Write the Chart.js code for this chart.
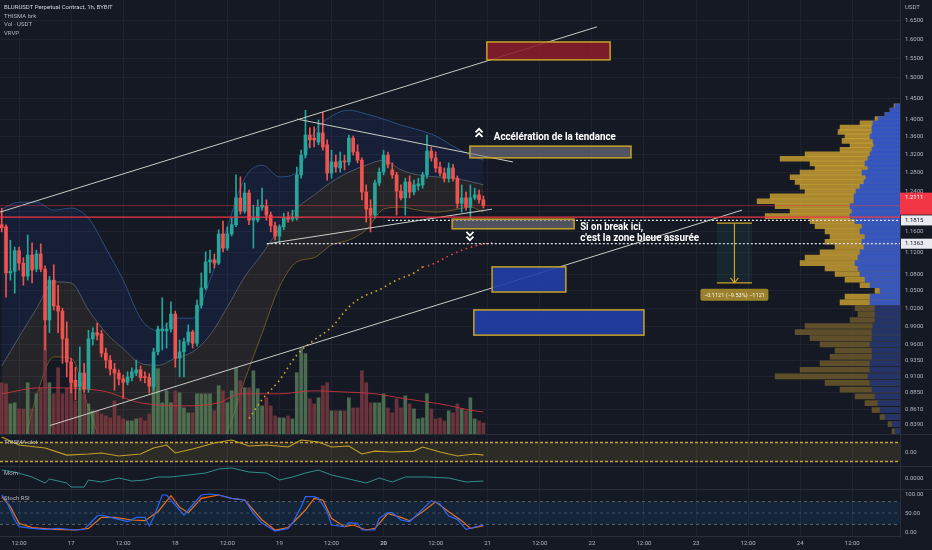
<!DOCTYPE html>
<html>
<head>
<meta charset="utf-8">
<title>BLURUSDT 1h</title>
<script src="https://cdn.jsdelivr.net/npm/chart.js@4.4.1/dist/chart.umd.min.js"></script>
<style>
  html, body { margin: 0; padding: 0; background: #151924; }
  #wrap { position: relative; width: 932px; height: 550px; overflow: hidden; background: #151924; font-family: Roboto, "Noto Sans", sans-serif; }
  #wrap canvas { position: absolute; left: 0; }
  .sep { position: absolute; left: 0; width: 932px; height: 1px; background: #2a2e39; z-index: 2; }
  .txt { position: absolute; left: 4px; font-size: 6px; line-height: 8.7px; color: #b2b5be; z-index: 3; white-space: nowrap; }
</style>
</head>
<body>
<div id="wrap">
  <canvas id="main" width="932" height="434" style="top:0"></canvas>
  <canvas id="thisma" width="932" height="32" style="top:434px"></canvas>
  <canvas id="mom" width="932" height="23" style="top:466px"></canvas>
  <canvas id="stoch" width="932" height="61" style="top:489px"></canvas>
  <div class="sep" style="top:434px"></div>
  <div class="sep" style="top:466px"></div>
  <div class="sep" style="top:489px"></div>
  <div class="txt" style="top:3px"><span style="color:#d1d4dc">BLURUSDT Perpetual Contract, 1h, BYBIT</span><br>THISMA brk<br>Vol · USDT<br>VRVP</div>
  <div class="txt" style="top:438px">THISMA clst</div>
  <div class="txt" style="top:469px">Mom</div>
  <div class="txt" style="top:494px">Stoch RSI</div>
</div>
<script>
// hours counted from 16 Jan 00:00, first candle at 08:00
const xMin = 7.61, xMax = 215.0;
const startHour = 8;

const opens = [
  1.173,1.169,1.082,1.085,1.123,1.100,1.076,1.115,1.089,1.117,
  1.089,1.000,1.069,1.024,1.015,0.969,0.932,0.904,0.894,0.915,
  0.891,0.969,0.979,0.977,0.946,0.935,0.921,0.915,0.906,0.901,
  0.908,0.915,0.920,0.909,0.908,0.895,0.948,0.982,0.982,0.985,
  1.010,0.938,0.948,0.964,0.980,0.962,1.025,1.055,1.102,1.106,
  1.100,1.155,1.128,1.155,1.173,1.227,1.200,1.237,1.182,1.182,
  1.208,1.210,1.192,1.171,1.151,1.169,1.188,1.184,1.186,1.275,
  1.318,1.363,1.356,1.347,1.368,1.341,1.279,1.303,1.290,1.305,
  1.303,1.356,1.325,1.307,1.239,1.206,1.192,1.258,1.281,1.318,
  1.286,1.275,1.241,1.227,1.260,1.239,1.252,1.254,1.275,1.327,
  1.312,1.292,1.279,1.268,1.290,1.268,1.216,1.227,1.208,1.227,
  1.233,1.223
];
const highs = [
  1.206,1.173,1.143,1.130,1.130,1.110,1.153,1.138,1.124,1.136,
  1.095,1.076,1.097,1.060,1.020,0.997,0.938,0.924,0.956,0.930,
  0.983,0.987,0.995,0.983,0.954,0.942,0.930,0.920,0.912,0.917,
  0.923,0.935,0.926,0.917,0.914,0.954,0.990,1.038,0.995,1.031,
  1.015,0.967,0.970,0.992,0.983,1.034,1.082,1.121,1.124,1.117,
  1.163,1.180,1.169,1.186,1.275,1.271,1.258,1.243,1.212,1.223,
  1.247,1.223,1.198,1.178,1.173,1.196,1.198,1.202,1.292,1.329,
  1.421,1.380,1.382,1.398,1.416,1.352,1.329,1.318,1.325,1.318,
  1.363,1.361,1.341,1.312,1.254,1.223,1.264,1.290,1.329,1.325,
  1.301,1.281,1.254,1.268,1.273,1.264,1.268,1.281,1.363,1.336,
  1.325,1.303,1.290,1.301,1.298,1.273,1.254,1.239,1.254,1.247,
  1.243,1.231
];
const lows = [
  1.159,1.039,1.069,1.046,1.087,1.060,1.069,1.064,1.084,1.084,
  0.951,0.979,1.017,0.979,0.930,0.909,0.885,0.875,0.889,0.886,
  0.886,0.959,0.967,0.940,0.923,0.912,0.889,0.897,0.877,0.897,
  0.903,0.911,0.903,0.900,0.885,0.889,0.943,0.951,0.954,0.980,
  0.924,0.909,0.909,0.959,0.954,0.957,1.020,1.052,1.082,1.091,
  1.097,1.121,1.124,1.151,1.169,1.194,1.196,1.173,1.128,1.178,
  1.202,1.182,1.159,1.143,1.138,1.163,1.178,1.180,1.182,1.268,
  1.312,1.334,1.336,1.341,1.329,1.264,1.268,1.281,1.281,1.286,
  1.296,1.318,1.301,1.223,1.178,1.159,1.186,1.252,1.275,1.290,
  1.268,1.192,1.223,1.192,1.227,1.233,1.243,1.247,1.268,1.305,
  1.281,1.273,1.260,1.260,1.262,1.206,1.198,1.202,1.182,1.223,
  1.216,1.206
];
const closes = [
  1.167,1.082,1.085,1.123,1.100,1.076,1.115,1.087,1.117,1.089,
  1.000,1.069,1.024,1.015,0.969,0.932,0.901,0.894,0.915,0.891,
  0.969,0.979,0.975,0.946,0.935,0.921,0.915,0.906,0.901,0.909,
  0.917,0.920,0.908,0.908,0.895,0.948,0.985,0.985,0.985,1.010,
  0.938,0.948,0.964,0.980,0.962,1.025,1.055,1.102,1.106,1.100,
  1.155,1.128,1.155,1.173,1.227,1.200,1.237,1.182,1.186,1.208,
  1.212,1.192,1.171,1.151,1.169,1.186,1.184,1.188,1.275,1.318,
  1.363,1.352,1.352,1.368,1.336,1.279,1.303,1.292,1.305,1.303,
  1.356,1.325,1.307,1.239,1.204,1.192,1.258,1.281,1.318,1.298,
  1.275,1.241,1.227,1.260,1.239,1.254,1.256,1.275,1.327,1.312,
  1.290,1.279,1.268,1.290,1.268,1.216,1.227,1.208,1.227,1.233,
  1.223,1.211
];
// volume, thousands USDT
const volumes = [
  510,500,300,310,250,250,510,250,400,460,
  1080,510,400,660,400,460,600,330,460,400,
  300,230,230,200,180,160,330,180,150,130,
  130,150,160,130,200,660,650,310,430,310,
  430,410,260,210,210,400,400,400,400,230,
  480,430,310,430,660,530,460,460,630,450,
  280,360,280,180,160,160,180,150,610,850,
  800,350,300,360,480,510,230,230,230,230,
  360,260,260,630,510,310,310,310,400,260,
  210,350,260,380,300,250,150,160,400,250,
  150,160,130,230,210,300,250,230,360,150,
  130,110
];
const hours = opens.map((_, i) => startHour + i);

const volMaHours = [8,17,31,40,50,58,63,72,80,86,94,101,109,117,119];
const volMa = [400,460,430,310,280,310,400,400,430,420,400,350,300,230,220];

// band around price (upper / basis / lower)
const bandHours = [8,12,16,20,24,28,32,36,40,44,48,52,56,60,64,68,72,76,80,84,88,92,96,100,104,108,112,116,119];
const bandUpper = [1.204,1.218,1.218,1.202,1.206,1.186,1.128,1.069,1.003,0.982,1.003,1.003,1.069,1.169,1.268,1.296,1.271,1.280,1.370,1.407,1.421,1.412,1.400,1.386,1.375,1.361,1.338,1.318,1.307];
const bandMiddle = [0.926,0.972,1.019,1.066,1.064,1.017,0.979,0.953,0.930,0.927,0.938,0.948,0.975,1.022,1.075,1.117,1.165,1.206,1.233,1.260,1.281,1.296,1.307,1.286,1.275,1.271,1.268,1.261,1.254];
const bandLower = [0.76,0.79,0.880,0.940,0.938,0.863,0.80,0.76,0.75,0.76,0.77,0.79,0.81,0.83,0.904,0.978,1.057,1.102,1.110,1.134,1.143,1.163,1.204,1.208,1.202,1.198,1.202,1.208,1.198];

// dotted curve
const curveHours = [65,68,72,76,80,84,88,91,95,99,103,105];
const curvePrices = [0.848,0.875,0.904,0.943,0.967,0.988,1.022,1.039,1.052,1.069,1.082,1.093];
const curveTailHours = [105,107,111,114,118,121];
const curveTailPrices = [1.093,1.097,1.113,1.124,1.134,1.138];

// trend lines: start hour, start price, end hour, end price
const trendStartH = [7.62, 19.1, 76.05, 69.1];
const trendStartP = [1.198, 0.838, 1.400, 1.136];
const trendEndH = [145.2, 178.6, 125.8, 121.0];
const trendEndP = [1.634, 1.202, 1.303, 1.204];

const redLevel = 1.188;
const lastPrice = 1.2111;
const levelPrices = [1.1815, 1.1363];
const levelStart = [97, 69.1];

// zones: start hour, end hour, top price, bottom price
const zones = [
  [119.8, 148.2, 1.593, 1.546],
  [115.9, 153.0, 1.338, 1.312],
  [111.8, 139.9, 1.184, 1.165],
  [121.0, 138.0, 1.093, 1.048],
  [116.8, 156.0, 1.017, 0.975]
];
const zoneKinds = ['red', 'gray', 'gray', 'blue', 'blue'];
const measureTime = [172.8, 180.9];
const measurePrice = [1.1763, 1.0642];
const measureText = '\u22120.1121 (\u22129.53%) \u22121121';

// visible range volume profile
const vpPrice = [1.43,1.42,1.41,1.40,1.39,1.38,1.37,1.36,1.35,1.34,1.33,1.32,1.31,1.30,1.29,1.28,1.27,1.26,1.25,1.24,1.23,1.22,1.21,1.20,1.19,1.18,1.17,1.16,1.15,1.14,1.13,1.12,1.11,1.10,1.09,1.08,1.07,1.06,1.05,1.04,1.03,1.02,1.01,1.00,0.99,0.98,0.97,0.96,0.95,0.94,0.93,0.92,0.91,0.90,0.89,0.88,0.87,0.86,0.85,0.84,0.83];
const vpTotal = [6,10,15,25,40,60,62,55,58,50,60,95,120,90,85,100,110,105,100,95,130,143,125,110,135,90,85,75,70,75,65,80,95,100,75,65,55,40,25,55,60,45,42,50,95,105,90,80,65,70,80,100,125,75,60,45,35,28,20,12,8];
const vpUp = [5,10,15,22,27,28,28,30,27,26,28,30,32,35,32,38,34,36,40,44,46,46,50,48,50,45,38,40,35,38,36,40,42,45,42,40,35,30,20,30,30,25,25,25,27,28,28,30,28,28,30,30,32,30,28,25,22,20,15,8,5];
const valueAreaLow = 1.03;

const priceTicks = [1.65,1.6,1.55,1.5,1.45,1.4,1.36,1.32,1.28,1.24,1.2,1.16,1.12,1.08,1.05,1.02,0.99,0.96,0.935,0.91,0.885,0.861,0.839];
const hiddenPriceTicks = [1.2];
const timeTicks = [12,24,36,48,60,72,84,96,108,120,132,144,156,168,180,192,204];
const timeLabels = ['12:00','17','12:00','18','12:00','19','12:00','20','12:00','21','12:00','22','12:00','23','12:00','24','12:00'];

const thHours = [8,12,18,23,28,31,35,40,43,46,48,52,57,61,65,69,74,77,81,84,88,91,94,98,103,105,109,113,117,119];
const thVals = [1.58,0.74,0.42,-0.32,-0.21,-0.1,-0.42,-0.21,0.42,0.74,-0.1,0.32,0.95,1.26,0.63,0.74,0.53,1.26,1.05,0.53,0.63,-0.21,0.1,0,0.1,0.53,0,-0.42,-0.21,-0.32];

const momHours = [8,11,15,18,19,23,24,27,28,31,35,38,41,44,47,51,55,58,61,65,69,72,75,78,81,84,89,92,95,98,101,106,111,115,119];
const momVals = [0.032,0.024,0.004,-0.02,-0.004,-0.02,-0.036,-0.036,-0.008,-0.016,0,-0.012,-0.008,0.004,0.004,0.012,0.02,0.036,0.04,0.024,0.02,-0.008,0.004,0.02,0.032,0.012,-0.008,-0.02,0,-0.016,0.004,0.004,0,-0.016,-0.012];

const kHours = [8,9,11,12,15,18,21,25,27,28,30,31,34,37,39,41,42,43,45,46,48,50,51,54,56,58,61,64,66,68,71,74,75,77,78,80,81,83,84,87,88,90,91,94,95,97,98,100,102,104,107,109,111,113,115,118,119];
const kVals = [97.4,84.2,31.6,14,9.6,7,9.6,5.3,7,18.4,42.1,44.7,36,27.2,38.6,38.6,15.8,38.6,97.4,97.4,71.1,44.7,57.9,97.4,100,97.4,88.6,84.2,49.1,22.8,2.6,9.6,22.8,66.7,93,93,88.6,53.5,18.4,14,24.6,22.8,5.3,5.3,36,50.9,50.9,31.6,27.2,49.1,82.5,73.7,42.1,33.3,7,15.8,18.4];
const dHours = [8,10,12,15,20,25,28,31,34,38,41,44,47,49,51,54,58,61,64,68,71,74,78,80,82,84,87,89,92,94,97,100,102,105,108,111,114,116,118,119];
const dVals = [93,66.7,22.8,11.4,7,5.3,9.6,38.6,38.6,31.6,29.8,53.5,95.6,64.9,50.9,88.6,97.4,88.6,84.2,31.6,5.3,11.4,57.9,88.6,84.2,36,14,18.4,5.3,9.6,49.1,38.6,29.8,53.5,79.8,53.5,29.8,9.6,14,16.7];

const upColor = '#26a69a';
const downColor = '#ef5350';
const gold = '#c9a227';
const gridColor = '#1f2330';
const axisText = '#b2b5be';

Chart.defaults.font.family = 'Roboto, "Noto Sans", sans-serif';

const pts = (xs, ys) => xs.map((h, i) => ({ x: h, y: ys[i] }));
const flat = (v, from, to) => [{ x: from, y: v }, { x: to, y: v }];
const isUp = i => closes[i] >= opens[i];

function timeAxis(showLabels) {
  return {
    type: 'linear', min: xMin, max: xMax, bounds: 'data', offset: false,
    afterBuildTicks: s => { s.ticks = timeTicks.map(v => ({ value: v })); },
    grid: { color: gridColor, drawTicks: false, offset: false },
    border: { display: showLabels, color: '#2a2e39' },
    ticks: {
      display: showLabels, autoSkip: false, maxRotation: 0, padding: 4, color: axisText,
      font: c => ({ size: 6, weight: c.tick && c.tick.value === 96 ? 'bold' : 'normal' }),
      callback: (v, i) => timeLabels[i]
    },
    afterFit: s => { s.height = showLabels ? 14 : 0; s.paddingLeft = 0; s.paddingRight = 0; }
  };
}

function valueAxis(min, max, list, fmt, showGrid) {
  return {
    type: 'linear', position: 'right', min, max, bounds: 'data', offset: false,
    afterBuildTicks: s => { s.ticks = list.map(v => ({ value: v })); },
    grid: { display: showGrid, color: gridColor, drawTicks: false, offset: false },
    border: { color: '#2a2e39' },
    ticks: { padding: 5, color: axisText, font: { size: 6 }, callback: fmt },
    afterFit: s => { s.width = 32; s.paddingTop = 0; s.paddingBottom = 0; }
  };
}

const baseOptions = () => ({
  responsive: false, animation: false, events: [],
  layout: { padding: 0, autoPadding: false },
  plugins: { legend: { display: false }, tooltip: { enabled: false } },
  elements: { point: { radius: 0 } }
});

function roundBox(ctx, x, y, w, h, r) {
  ctx.beginPath();
  if (ctx.roundRect) ctx.roundRect(x, y, w, h, r); else ctx.rect(x, y, w, h);
}

const drawings = {
  id: 'drawings',
  afterDatasetsDraw(chart) {
    const { ctx, chartArea: area, scales: { x, y } } = chart;
    const X = v => x.getPixelForValue(v);
    const Y = v => y.getPixelForValue(v);
    ctx.save();
    ctx.beginPath();
    ctx.rect(area.left, area.top, area.right - area.left, area.bottom - area.top);
    ctx.clip();

    const fills = { red: 'rgba(139,28,44,0.88)', gray: 'rgba(118,121,133,0.62)', blue: 'rgba(32,62,165,0.9)' };
    zones.forEach(([t1, t2, p1, p2], i) => {
      const l = X(t1), r = X(t2), t = Y(p1), b = Y(p2);
      ctx.fillStyle = fills[zoneKinds[i]];
      ctx.fillRect(l, t, r - l, b - t);
      ctx.strokeStyle = gold;
      ctx.lineWidth = 1.5;
      ctx.strokeRect(l, t, r - l, b - t);
    });

    // price range tool
    const ml = X(measureTime[0]), mr = X(measureTime[1]);
    const mt = Y(measurePrice[0]), mb = Y(measurePrice[1]);
    const mc = (ml + mr) / 2;
    ctx.fillStyle = 'rgba(38,120,110,0.14)';
    ctx.fillRect(ml, mt, mr - ml, mb - mt);
    ctx.strokeStyle = gold;
    ctx.lineWidth = 1.2;
    ctx.beginPath();
    ctx.moveTo(ml, mt); ctx.lineTo(mr, mt);
    ctx.moveTo(ml, mb); ctx.lineTo(mr, mb);
    ctx.moveTo(mc, mt); ctx.lineTo(mc, mb);
    ctx.moveTo(mc - 4, mb - 5); ctx.lineTo(mc, mb); ctx.lineTo(mc + 4, mb - 5);
    ctx.stroke();
    const ly = mb + 12;
    ctx.fillStyle = '#9c812c';
    roundBox(ctx, mc - 34, ly - 6, 68, 12, 2);
    ctx.fill();
    ctx.fillStyle = '#f2f2f2';
    ctx.font = '5.6px Roboto';
    ctx.textAlign = 'center';
    ctx.textBaseline = 'middle';
    ctx.fillText(measureText, mc, ly + 0.5);

    // double chevrons
    const chevron = (cx, cy, dir) => {
      ctx.strokeStyle = '#ffffff';
      ctx.lineWidth = 1.8;
      [-2.3, 2.3].forEach(o => {
        ctx.beginPath();
        ctx.moveTo(cx - 3.5, cy + o + dir * 1.8);
        ctx.lineTo(cx, cy + o - dir * 1.8);
        ctx.lineTo(cx + 3.5, cy + o + dir * 1.8);
        ctx.stroke();
      });
    };
    chevron(X(118), Y(1.368), 1);
    chevron(X(115.9), Y(1.151), -1);

    ctx.fillStyle = '#ffffff';
    ctx.font = 'bold 10.5px Roboto';
    ctx.textAlign = 'left';
    ctx.textBaseline = 'middle';
    ctx.fillText('Accélération de la tendance', X(121.4), Y(1.357), 122);
    ctx.fillText('Si on break ici,', X(141.3), Y(1.168), 63);
    ctx.fillText("c'est la zone bleue assurée", X(141.3), Y(1.147), 119);
    ctx.restore();
  },
  afterDraw(chart) {
    const { ctx, chartArea: area, scales: { y } } = chart;
    const left = area.right, w = chart.width - area.right;
    ctx.save();
    ctx.font = '6px Roboto';
    ctx.textAlign = 'left';
    ctx.textBaseline = 'middle';
    ctx.fillStyle = axisText;
    ctx.fillText('USDT', left + 5, 7);
    const py = y.getPixelForValue(lastPrice);
    ctx.fillStyle = '#f23645';
    ctx.fillRect(left, py - 13, w, 22);
    ctx.fillStyle = '#ffffff';
    ctx.fillText(lastPrice.toFixed(4), left + 5, py - 8);
    levelPrices.forEach(p => {
      const lp = y.getPixelForValue(p);
      ctx.fillStyle = '#e9ebf0';
      ctx.fillRect(left + 1, lp - 5, w - 1, 10);
      ctx.fillStyle = '#131722';
      ctx.fillText(p.toFixed(4), left + 5, lp);
    });
    ctx.restore();
  }
};

const lineSet = (data, color, width, extra) => Object.assign({
  type: 'line', data, borderColor: color, borderWidth: width, pointRadius: 0, fill: false
}, extra || {});

const mainDatasets = [
  lineSet(pts(bandHours, bandUpper), '#2b4f80', 1, { order: 20, cubicInterpolationMode: 'monotone',
    fill: { target: 1, above: 'rgba(41,98,255,0.08)', below: 'rgba(41,98,255,0.08)' } }),
  lineSet(pts(bandHours, bandMiddle), 'rgba(120,123,134,0.6)', 1, { order: 20, cubicInterpolationMode: 'monotone',
    fill: { target: 2, above: 'rgba(150,120,80,0.13)', below: 'rgba(150,120,80,0.13)' } }),
  lineSet(pts(bandHours, bandLower), '#6b5426', 1, { order: 20, cubicInterpolationMode: 'monotone' }),
  {
    type: 'bar', indexAxis: 'y', xAxisID: 'xv', yAxisID: 'y', order: 19, grouped: false, barThickness: 5,
    data: pts(vpTotal, vpPrice).map(d => ({ x: d.x, y: d.y })),
    backgroundColor: c => vpPrice[c.dataIndex] >= valueAreaLow ? 'rgba(196,156,50,0.85)' : 'rgba(112,92,44,0.8)'
  },
  {
    type: 'bar', indexAxis: 'y', xAxisID: 'xv', yAxisID: 'y', order: 18, grouped: false, barThickness: 5,
    data: pts(vpUp, vpPrice),
    backgroundColor: c => vpPrice[c.dataIndex] >= valueAreaLow ? 'rgba(44,82,200,0.9)' : 'rgba(30,50,112,0.9)'
  },
  {
    type: 'bar', yAxisID: 'yv', order: 15, grouped: false, barThickness: 3,
    data: pts(hours, volumes),
    backgroundColor: c => isUp(c.dataIndex) ? 'rgba(96,138,96,0.72)' : 'rgba(140,60,68,0.72)'
  },
  lineSet(pts(volMaHours, volMa), 'rgba(200,50,60,0.9)', 1, { yAxisID: 'yv', order: 14, cubicInterpolationMode: 'monotone' }),
  {
    type: 'bar', order: 6, grouped: false, barThickness: 1,
    data: hours.map((h, i) => ({ x: h, y: [lows[i], highs[i]] })),
    backgroundColor: c => isUp(c.dataIndex) ? upColor : downColor
  },
  {
    type: 'bar', order: 5, grouped: false, barThickness: 3, minBarLength: 1,
    data: hours.map((h, i) => ({ x: h, y: [opens[i], closes[i]] })),
    backgroundColor: c => isUp(c.dataIndex) ? upColor : downColor
  }
];
trendStartH.forEach((h, i) => {
  mainDatasets.push(lineSet([{ x: h, y: trendStartP[i] }, { x: trendEndH[i], y: trendEndP[i] }], '#c9cbc4', 1, { order: 3 }));
});
mainDatasets.push(lineSet(pts(curveHours, curvePrices), '#d4a72c', 1.6, { order: 3, borderDash: [1.6, 3.6], cubicInterpolationMode: 'monotone' }));
mainDatasets.push(lineSet(pts(curveTailHours, curveTailPrices), '#e04848', 1.6, { order: 3, borderDash: [1.6, 3.6], cubicInterpolationMode: 'monotone' }));
mainDatasets.push(lineSet(flat(redLevel, xMin, xMax), '#f23645', 1.2, { order: 2 }));
mainDatasets.push(lineSet(flat(lastPrice, xMin, xMax), 'rgba(242,54,69,0.45)', 1, { order: 2 }));
levelPrices.forEach((p, i) => {
  mainDatasets.push(lineSet(flat(p, levelStart[i], xMax), '#e0e3eb', 1.2, { order: 2, borderDash: [2, 2] }));
});

const mainOptions = baseOptions();
mainOptions.scales = {
  x: timeAxis(false),
  y: {
    type: 'logarithmic', position: 'right', min: 0.8262, max: 1.709, bounds: 'data', offset: false,
    afterBuildTicks: s => { s.ticks = priceTicks.map(v => ({ value: v })); },
    grid: { color: gridColor, drawTicks: false, offset: false },
    border: { color: '#2a2e39' },
    ticks: { padding: 5, color: axisText, font: { size: 6 },
      callback: v => hiddenPriceTicks.includes(v) ? '' : Number(v).toFixed(4) },
    afterFit: s => { s.width = 32; s.paddingTop = 0; s.paddingBottom = 0; }
  },
  yv: { type: 'linear', display: false, min: 0, max: Math.max(...volumes) * 4 },
  xv: { type: 'linear', display: false, reverse: true, min: 0, max: Math.max(...vpTotal) * 6.3 }
};

new Chart(document.getElementById('main'), {
  type: 'line',
  data: { datasets: mainDatasets },
  options: mainOptions,
  plugins: [drawings]
});

// THISMA pane
const thOptions = baseOptions();
thOptions.scales = { x: timeAxis(false), y: valueAxis(-1.47, 1.9, [0], v => v.toFixed(2), false) };
new Chart(document.getElementById('thisma'), {
  type: 'line',
  data: { datasets: [
    lineSet(flat(1, xMin, xMax), gold, 1.4, { borderDash: [3, 2], fill: { target: 1, above: 'rgba(170,145,50,0.16)', below: 'rgba(170,145,50,0.16)' } }),
    lineSet(flat(-1, xMin, xMax), gold, 1.4, { borderDash: [3, 2] }),
    lineSet(pts(thHours, thVals), '#c9a227', 1.1)
  ] },
  options: thOptions
});

// Momentum pane
const momOptions = baseOptions();
momOptions.scales = { x: timeAxis(false), y: valueAxis(-0.044, 0.048, [0], v => v.toFixed(4), false) };
new Chart(document.getElementById('mom'), {
  type: 'line',
  data: { datasets: [lineSet(pts(momHours, momVals), '#2f8f8a', 1)] },
  options: momOptions
});

// Stoch RSI pane
const stOptions = baseOptions();
stOptions.scales = { x: timeAxis(true), y: valueAxis(-10.5, 113.2, [0, 50, 100], v => v.toFixed(2), false) };
new Chart(document.getElementById('stoch'), {
  type: 'line',
  data: { datasets: [
    lineSet(flat(80, xMin, xMax), '#5d606b', 1, { borderDash: [3, 3], fill: { target: 1, above: 'rgba(33,150,243,0.1)', below: 'rgba(33,150,243,0.1)' } }),
    lineSet(flat(20, xMin, xMax), '#5d606b', 1, { borderDash: [3, 3] }),
    lineSet(flat(50, xMin, xMax), 'rgba(120,123,134,0.5)', 1, { borderDash: [3, 3] }),
    lineSet(pts(kHours, kVals), '#2962ff', 1.2),
    lineSet(pts(dHours, dVals), '#ff6d00', 1.2)
  ] },
  options: stOptions
});
</script>
</body>
</html>
